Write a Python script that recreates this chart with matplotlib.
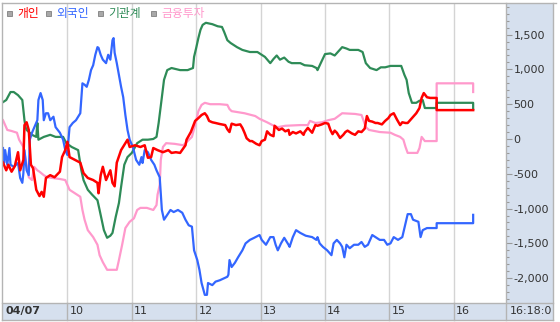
import matplotlib
matplotlib.use('Agg')
import matplotlib.pyplot as plt
from matplotlib.patches import Rectangle
from matplotlib.lines import Line2D
from matplotlib.ticker import MultipleLocator, FuncFormatter

plt.rcParams['axes.unicode_minus'] = False

# minutes after 09:00, net buying (억원)
red_t = [0, 3, 5, 8, 11, 14, 16, 19, 20, 22, 24, 26, 28, 31, 34, 36, 38, 40, 44, 48,
         53, 55, 58, 60, 62, 67, 72, 75, 79, 84, 88, 89, 91, 93, 96, 100, 102, 104, 106, 110,
         114, 116, 118, 123, 128, 132, 135, 138, 140, 144, 149, 154, 157, 161, 165, 170, 171, 175, 179, 182,
         185, 188, 190, 192, 195, 198, 202, 207, 209, 211, 213, 217, 221, 223, 225, 227, 230, 232, 236, 239,
         241, 244, 246, 249, 252, 253, 257, 260, 263, 266, 267, 270, 273, 277, 280, 281, 284, 288, 291, 293,
         297, 300, 303, 305, 307, 309, 311, 314, 317, 319, 321, 325, 328, 331, 334, 337, 339, 341, 344, 347,
         349, 353, 356, 359, 361, 364, 367, 370, 372, 375, 377, 381, 385, 388, 390, 392, 395, 398, 404, 404,
         438]
red_v = [-340, -450, -370, -470, -390, -190, -450, -300, 200, 240, 130, -370, -420, -730, -820, -760, -830, -560, -520, -550,
         -470, -260, -160, -40, -260, -300, -340, -490, -560, -590, -630, -780, -520, -400, -590, -450, -630, -680, -340, -160,
         -60, -10, -115, -90, -115, -90, -270, -260, -130, -160, -190, -160, -200, -190, -200, -90, -10, 100, 260, 300,
         345, 370, 330, 260, 240, 230, 215, 200, 140, 100, 220, 200, 210, 160, 90, 10, -30, -30, -70, -90,
         -30, -10, 110, 60, 40, 190, 130, 150, 110, 130, 60, 100, 80, 110, 60, 100, 160, 90, 200, 190,
         210, 230, 220, 130, 70, 120, 90, 15, 60, 100, 120, 80, 60, 110, 100, 150, 330, 260, 250, 230,
         230, 210, 260, 300, 345, 370, 280, 200, 240, 230, 230, 300, 370, 445, 590, 660, 600, 590, 590, 415,
         415]

blue_t = [0, 1, 2, 4, 6, 7, 10, 14, 16, 18, 19, 20, 22, 24, 25, 27, 30, 32, 33, 35,
          37, 38, 40, 42, 44, 47, 49, 53, 56, 58, 60, 61, 62, 65, 68, 72, 74, 76, 78, 80,
          82, 84, 86, 88, 89, 91, 93, 96, 98, 100, 102, 103, 104, 106, 108, 110, 112, 114, 116, 118,
          121, 124, 127, 129, 130, 132, 135, 138, 141, 143, 146, 148, 150, 153, 156, 159, 163, 167, 170, 173,
          176, 178, 181, 183, 185, 188, 190, 191, 195, 198, 202, 209, 210, 211, 213, 216, 219, 223, 226, 230,
          234, 239, 241, 245, 249, 252, 254, 256, 259, 262, 266, 267, 270, 273, 277, 282, 288, 292, 293, 295,
          298, 302, 306, 308, 311, 314, 316, 318, 320, 323, 327, 331, 334, 337, 340, 344, 348, 351, 355, 358,
          361, 364, 368, 372, 375, 377, 380, 382, 387, 389, 391, 395, 404, 404, 438, 438]
blue_v = [-130, -345, -160, -370, -130, -370, -400, -345, -560, -630, -490, -160, -450, -520, -10, 90, 200, 270, 560, 660,
          560, 270, 370, 370, 270, 320, 170, 90, -10, -160, -230, -10, 170, 230, 270, 370, 800, 780, 750, 850,
          990, 1060, 1210, 1320, 1310, 1210, 1140, 1090, 1210, 1140, 1420, 1450, 1240, 1090, 920, 750, 600, 345, 130, -10,
          -115, -300, -370, -260, -345, -160, -190, -300, -370, -450, -550, -1020, -1160, -1090, -1020, -1050, -1020, -1060, -1160, -1240,
          -1260, -1600, -1740, -1880, -2070, -2240, -2240, -2070, -2100, -2050, -2030, -1980, -1950, -1740, -1840, -1780, -1700, -1600, -1500, -1450,
          -1420, -1380, -1450, -1520, -1410, -1410, -1520, -1600, -1500, -1420, -1520, -1550, -1410, -1310, -1350, -1390, -1410, -1450, -1410, -1500,
          -1550, -1600, -1670, -1500, -1450, -1500, -1550, -1700, -1520, -1570, -1520, -1520, -1480, -1550, -1520, -1380, -1420, -1450, -1450, -1520,
          -1500, -1410, -1450, -1410, -1210, -1080, -1080, -1160, -1190, -1410, -1310, -1280, -1280, -1210, -1210, -1090]

green_t = [0, 3, 7, 10, 14, 18, 20, 21, 22, 27, 31, 32, 33, 38, 44, 49, 56, 59, 64, 70,
           73, 75, 79, 83, 88, 90, 94, 97, 100, 102, 105, 108, 110, 113, 116, 120, 125, 130, 135, 140,
           143, 145, 148, 150, 153, 157, 165, 172, 177, 178, 180, 182, 184, 186, 189, 195, 200, 204, 206, 209,
           212, 218, 223, 230, 237, 244, 249, 252, 255, 258, 262, 266, 269, 277, 281, 288, 292, 293, 296, 300,
           305, 309, 316, 320, 323, 331, 335, 338, 342, 348, 352, 356, 361, 371, 374, 376, 378, 381, 385, 388,
           391, 393, 404, 404, 438, 438]
green_v = [530, 560, 675, 675, 630, 560, 270, 170, 130, 60, 30, 230, -10, 30, 60, 30, 30, -60, -115, -160,
           -450, -590, -730, -800, -880, -1020, -1310, -1420, -1390, -1350, -1120, -920, -690, -370, -260, -200, -60, -10, -10, 0,
           30, 230, 600, 850, 990, 1020, 990, 990, 1020, 1180, 1310, 1450, 1570, 1640, 1670, 1650, 1620, 1610, 1540, 1420,
           1380, 1320, 1280, 1250, 1250, 1180, 1090, 1150, 1200, 1140, 1170, 1110, 1090, 1090, 1060, 1050, 1020, 990, 1090, 1220,
           1230, 1200, 1320, 1300, 1280, 1280, 1250, 1090, 1020, 990, 1030, 1030, 1050, 1050, 920, 850, 660, 520, 520, 550,
           560, 445, 445, 520, 520, 430]

pink_t = [0, 2, 4, 8, 13, 15, 19, 20, 22, 24, 27, 29, 32, 34, 38, 41, 46, 53, 58, 60,
          62, 67, 72, 74, 76, 79, 84, 88, 90, 93, 97, 106, 108, 111, 114, 118, 122, 125, 128, 134,
          140, 143, 144, 146, 147, 149, 152, 160, 168, 172, 176, 179, 182, 185, 188, 193, 202, 209, 211, 213,
          225, 235, 239, 246, 251, 256, 263, 277, 284, 286, 291, 297, 303, 309, 316, 328, 334, 336, 338, 341,
          351, 361, 365, 370, 373, 375, 377, 386, 388, 390, 393, 404, 404, 438, 438]
pink_v = [270, 200, 130, 115, 90, -10, -115, -200, -370, -550, -590, -400, -450, -470, -520, -550, -560, -575, -590, -660,
          -730, -780, -830, -1020, -1160, -1310, -1410, -1520, -1670, -1770, -1880, -1880, -1740, -1520, -1280, -1190, -1140, -1020, -990, -990,
          -1020, -950, -800, -660, -300, -115, -60, -70, -90, -30, 30, 200, 400, 490, 520, 500, 500, 490, 430, 400,
          370, 330, 290, 240, 200, 170, 190, 200, 200, 260, 230, 240, 270, 290, 370, 360, 345, 260, 170, 130,
          100, 90, 60, 30, -10, -115, -200, -200, -130, 30, -30, -30, 800, 800, 675]

series_names = ['개인', '외국인', '기관계', '금융투자']
series_colors = ['#ff0000', '#3366ff', '#2e8b57', '#ff99cc']
hour_labels = ['04/07', '10', '11', '12', '13', '14', '15', '16']
y_ticks = [-2000, -1500, -1000, -500, 0, 500, 1000, 1500]

W, H = 560, 322
panel = '#d6e0ee'
edge = '#b4b4b4'

def fx(x):
    return x / W

def fy(y):
    return 1 - y / H

fig = plt.figure(figsize=(W / 100, H / 100), dpi=100)
fig.patch.set_facecolor('white')

# right scale panel and bottom time bar
fig.add_artist(Rectangle((fx(506), fy(320)), fx(47), 317 / H, transform=fig.transFigure,
                         facecolor=panel, edgecolor='none', zorder=0))
fig.add_artist(Rectangle((fx(2), fy(320)), fx(504), 17 / H, transform=fig.transFigure,
                         facecolor=panel, edgecolor='none', zorder=0))

ax = fig.add_axes([fx(3), fy(303), fx(503), 299 / H])
ax.set_facecolor('white')
for s in ax.spines.values():
    s.set_visible(False)

ax.set_xlim(0, 468.6)
ax.set_ylim(-2357, 1940)

for h in range(60, 421, 60):
    ax.axvline(h, color='#d4d4d4', lw=1.0, zorder=1)
    ax.axvline(h, ymin=-17 / 299, ymax=0, color=edge, lw=1.0, clip_on=False, zorder=1)

ax.plot(pink_t, pink_v, color=series_colors[3], lw=1.6, zorder=3)
ax.plot(green_t, green_v, color=series_colors[2], lw=1.6, zorder=4)
ax.plot(blue_t, blue_v, color=series_colors[1], lw=1.6, zorder=5)
ax.plot(red_t, red_v, color=series_colors[0], lw=1.8, zorder=6)

ax.set_xticks([])
ax.yaxis.tick_right()
ax.set_yticks(y_ticks)
ax.yaxis.set_minor_locator(MultipleLocator(100))
ax.yaxis.set_major_formatter(FuncFormatter(lambda v, p: '{:,.0f}'.format(v)))
ax.tick_params(axis='y', which='major', direction='out', length=4, width=0.8,
               color='#999999', labelsize=8, labelcolor='#333333', pad=1.5)
ax.tick_params(axis='y', which='minor', direction='out', length=2, width=0.8,
               color='#999999')

# time labels in the bottom bar
for i, lab in enumerate(hour_labels):
    ax.text(i * 60 + (2.5 if i == 0 else 2), -0.027, lab, transform=ax.get_xaxis_transform(),
            ha='left', va='center', fontsize=8, color='#333333',
            fontweight='bold' if i == 0 else 'normal')
fig.text(fx(510), fy(311.5), '16:18:0', ha='left', va='center', fontsize=8, color='#333333')

# frame lines
for (x0, y0, x1, y1) in [(2, 3, 556, 3), (2, 3, 2, 320), (2, 320, 553, 320),
                         (2, 303, 553, 303), (506, 3, 506, 320), (553, 3, 553, 320)]:
    fig.add_artist(Line2D([fx(x0), fx(x1)], [fy(y0), fy(y1)], transform=fig.transFigure,
                          color=edge, lw=1.0, zorder=10))

# legend row
lx = [7, 46, 98, 151]
for x, name, c in zip(lx, series_names, series_colors):
    fig.add_artist(Rectangle((fx(x), fy(16)), fx(5), 5 / H, transform=fig.transFigure,
                             facecolor='#a8a8a8', edgecolor='#808080', lw=0.6, zorder=11))
    fig.text(fx(x + 10), fy(14), name, ha='left', va='center', fontsize=8.5, color=c,
             family=['Noto Sans CJK KR', 'DejaVu Sans'], zorder=11)

fig.savefig('out.png', dpi=100)
